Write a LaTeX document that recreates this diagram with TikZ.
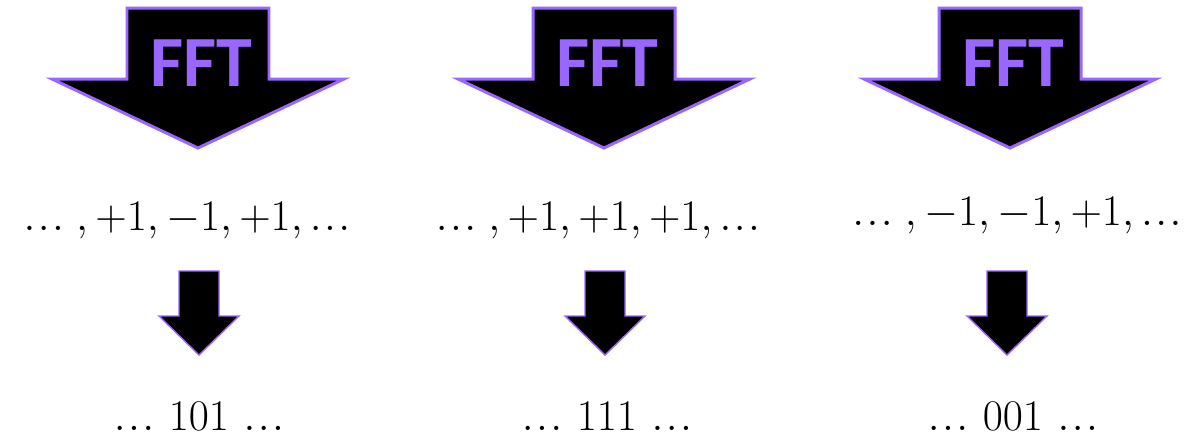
\documentclass[tikz,border=0pt]{standalone}
\usepackage{fontspec}
\newfontfamily\fftfont{Carlito}
\usetikzlibrary{positioning}
\definecolor{fftpurple}{HTML}{9966FF}
\newcommand\tdots{\mathinner{.\mkern1mu.\mkern1mu.}}
\tikzset{bigarrow/.style={fill=black,draw=fftpurple,line width=1.7pt,line join=miter},smallarrow/.style={fill=black,draw=fftpurple,line width=0.8pt,line join=miter},fftlab/.style={text=fftpurple,font=\fftfont\bfseries\fontsize{41}{44}\selectfont,inner sep=0pt},seq/.style={font=\fontsize{25}{28}\selectfont,anchor=base,inner sep=0pt},bits/.style={font=\fontsize{26}{30}\selectfont,anchor=base,inner sep=0pt}}
\begin{document}
\begin{tikzpicture}[x=0.02cm,y=-0.02cm]
\useasboundingbox (0,0) rectangle (1193,441);
\foreach \i/\cx/\sx in {1/198/199,2/604/605,3/1010/1007}{\filldraw[bigarrow](\cx-71,8)--(\cx+71,8)--(\cx+71,79)--(\cx+146,79)--(\cx,148)--(\cx-146,79)--(\cx-71,79)--cycle;\node[fftlab] (fft\i) at (\cx+3,63) {FFT};\filldraw[smallarrow](\sx-20,271)--(\sx+20,271)--(\sx+20,316)--(\sx+40,316)--(\sx,355)--(\sx-40,316)--(\sx-20,316)--cycle;}
\node[seq] (seq1) at (187,230) {$\tdots\mkern2mu, +1, -1, +1, \tdots$};
\node[seq] (seq2) at (598,230) {$\tdots\mkern2mu, +1, +1, +1, \tdots$};
\node[seq] (seq3) at (1017,225) {$\tdots\mkern2mu, -1, -1, +1, \tdots$};
\node[bits] (bits1) at (199,430) {$\tdots\,101\,\tdots$};
\node[bits] (bits2) at (607,430) {$\tdots\,111\,\tdots$};
\node[bits] (bits3) at (1013,430) {$\tdots\,001\,\tdots$};
\end{tikzpicture}
\end{document}
